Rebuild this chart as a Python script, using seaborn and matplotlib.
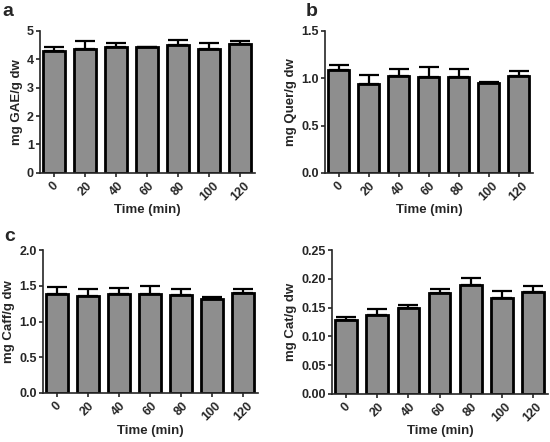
import numpy as np
import pandas as pd
import matplotlib
matplotlib.use("Agg")
import matplotlib.pyplot as plt
import seaborn as sns

times = ["0", "20", "40", "60", "80", "100", "120"]

gae_mean = [4.29, 4.38, 4.44, 4.42, 4.50, 4.37, 4.55]
gae_err = [0.15, 0.26, 0.13, 0.03, 0.19, 0.21, 0.09]

quer_mean = [1.09, 0.94, 1.02, 1.01, 1.01, 0.95, 1.02]
quer_err = [0.05, 0.09, 0.08, 0.11, 0.09, 0.015, 0.06]

caff_mean = [1.38, 1.36, 1.39, 1.38, 1.37, 1.31, 1.40]
caff_err = [0.10, 0.10, 0.08, 0.12, 0.09, 0.03, 0.06]

cat_mean = [0.128, 0.138, 0.149, 0.176, 0.190, 0.167, 0.177]
cat_err = [0.006, 0.010, 0.006, 0.007, 0.012, 0.012, 0.011]

sns.set_theme(style="ticks")
plt.rcParams["font.family"] = ["Liberation Sans", "DejaVu Sans"]
plt.rcParams["font.weight"] = "bold"


def panel(ax, means, errs, ylabel, ymax, ystep, fmt):
    df = pd.DataFrame({"time": times, "value": means})
    sns.barplot(data=df, x="time", y="value", ax=ax, color="#8e8e8e",
                saturation=1, width=0.7, edgecolor="black", linewidth=2,
                errorbar=None)
    centers = [p.get_x() + p.get_width() / 2 for p in ax.patches]
    ax.errorbar(centers, means, yerr=[np.zeros(len(errs)), errs], fmt="none",
                ecolor="black", elinewidth=1.6, capsize=7.5, capthick=1.6,
                zorder=1)
    ax.set_xlim(-0.45, 6.48)
    ax.set_ylim(0, ymax)
    ax.set_yticks(np.arange(0, ymax + ystep / 2, ystep))
    ax.yaxis.set_major_formatter(matplotlib.ticker.FormatStrFormatter(fmt))
    ax.set_xlabel("Time (min)", fontsize=9.5, fontweight="bold", labelpad=1)
    ax.set_ylabel(ylabel, fontsize=9.5, fontweight="bold", labelpad=3)
    ax.tick_params(axis="x", rotation=45, labelsize=9, length=3, width=1.2,
                   pad=2)
    ax.tick_params(axis="y", labelsize=9, length=3, width=1.2, pad=1.5)
    for lab in ax.get_xticklabels() + ax.get_yticklabels():
        lab.set_fontweight("bold")
    for s in ["left", "bottom"]:
        ax.spines[s].set_linewidth(1.2)
    sns.despine(ax=ax)


fig = plt.figure(figsize=(5.5, 4.42), dpi=100)
ax_a = fig.add_axes([0.073, 0.609, 0.391, 0.321])
ax_b = fig.add_axes([0.591, 0.609, 0.378, 0.321])
ax_c = fig.add_axes([0.078, 0.111, 0.391, 0.323])
ax_d = fig.add_axes([0.604, 0.109, 0.392, 0.325])

panel(ax_a, gae_mean, gae_err, "mg GAE/g dw", 5, 1, "%d")
panel(ax_b, quer_mean, quer_err, "mg Quer/g dw", 1.5, 0.5, "%.1f")
panel(ax_c, caff_mean, caff_err, "mg Caff/g dw", 2.0, 0.5, "%.1f")
panel(ax_d, cat_mean, cat_err, "mg Cat/g dw", 0.25, 0.05, "%.2f")

fig.text(0.005, 0.975, "a", fontsize=14, fontweight="bold", va="center")
fig.text(0.555, 0.975, "b", fontsize=14, fontweight="bold", va="center")
fig.text(0.008, 0.466, "c", fontsize=14, fontweight="bold", va="center")

fig.savefig("out.png", dpi=100)
